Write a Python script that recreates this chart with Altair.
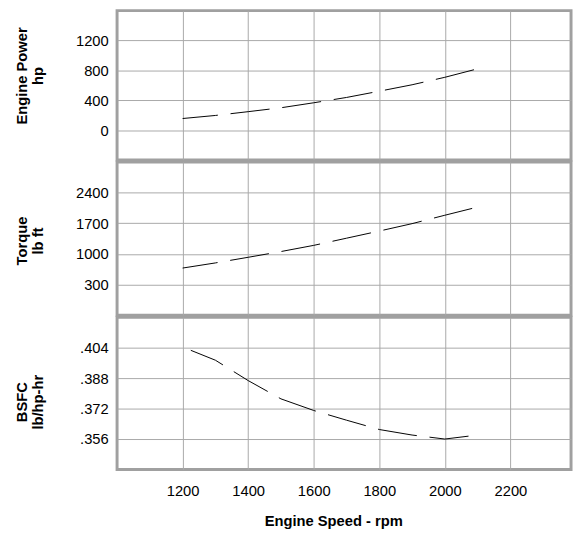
import altair as alt
import pandas as pd

# ---- data ----
rpm = [1200, 1300, 1400, 1500, 1600, 1700, 1800, 1900, 2000, 2100]
power_hp = [155, 196, 247, 299, 366, 437, 521, 607, 707, 821]
torque_lbft = [677, 794, 923, 1054, 1195, 1359, 1522, 1691, 1883, 2070]
bsfc_rpm = [1225, 1300, 1400, 1500, 1600, 1700, 1800, 1900, 2000, 2100]
bsfc_vals = [0.4026, 0.3974, 0.3867, 0.3771, 0.3710, 0.3659, 0.3610, 0.3581, 0.3560, 0.3581]

x_ticks = [1200, 1400, 1600, 1800, 2000, 2200]
power_ticks = [0, 400, 800, 1200]
torque_ticks = [300, 1000, 1700, 2400]
bsfc_ticks = [0.356, 0.372, 0.388, 0.404]

x_domain = [1000, 2385]
power_domain = [-400, 1600]
torque_domain = [-400, 3100]
bsfc_domain = [0.340, 0.420]

power_df = pd.DataFrame({"rpm": rpm, "value": power_hp})
torque_df = pd.DataFrame({"rpm": rpm, "value": torque_lbft})
bsfc_df = pd.DataFrame({"rpm": bsfc_rpm, "value": bsfc_vals})

W = 462
FONT = "Liberation Sans"
GRID = "#a8a8a8"
BORDER = "#a0a0a0"
FS = 15


def panel(df, domain, ticks, title, height, title_y, bottom=False, label_expr=None):
    if bottom:
        xaxis = alt.Axis(values=x_ticks, format="d", grid=True, gridColor=GRID, gridWidth=1,
                         domain=False, ticks=False, labelPadding=14,
                         labelFont=FONT, labelFontSize=FS, labelColor="#000",
                         titleFont=FONT, titleFontSize=FS, titleFontWeight="bold",
                         titleColor="#000", titlePadding=16, titleX=220,
                         titleAlign="center")
        x = alt.X("rpm:Q", scale=alt.Scale(domain=x_domain, nice=False, zero=False),
                  axis=xaxis, title="Engine Speed - rpm")
    else:
        xaxis = alt.Axis(values=x_ticks, grid=True, gridColor=GRID, gridWidth=1,
                         domain=False, ticks=False, labels=False)
        x = alt.X("rpm:Q", scale=alt.Scale(domain=x_domain, nice=False, zero=False),
                  axis=xaxis, title=None)
    yargs = dict(values=ticks, grid=True, gridColor=GRID, gridWidth=1,
                 domain=False, ticks=False, labelPadding=9,
                 labelFont=FONT, labelFontSize=FS, labelColor="#000",
                 titleFont=FONT, titleFontSize=FS, titleFontWeight="bold",
                 titleColor="#000", titleAngle=-90, titleAlign="center",
                 titleBaseline="bottom", titleX=-89, titleY=title_y,
                 titleLineHeight=16, labelOverlap=False)
    if label_expr:
        yargs["labelExpr"] = label_expr
    else:
        yargs["format"] = "d"
    y = alt.Y("value:Q", scale=alt.Scale(domain=domain, nice=False, zero=False),
              axis=alt.Axis(**yargs), title=title)
    return alt.Chart(df).mark_line(
        color="#000", strokeWidth=1, strokeDash=[40, 13], strokeDashOffset=4
    ).encode(x=x, y=y).properties(width=W, height=height)


p1 = panel(power_df, power_domain, power_ticks, ["Engine Power", "hp"], 152, 66)
p2 = panel(torque_df, torque_domain, torque_ticks, ["Torque", "lb ft"], 156, 80)
p3 = panel(bsfc_df, bsfc_domain, bsfc_ticks, ["BSFC", "lb/hp-hr"], 155, 86,
           bottom=True, label_expr="substring(format(datum.value, '.3f'), 1)")

chart = alt.vconcat(p1, p2, p3, spacing=-3).properties(
    padding={"left": 5, "top": -4, "right": 0, "bottom": 0},
    background="white"
).configure_view(
    stroke=BORDER, strokeWidth=3
)

chart.save("out.html", embed_options={"renderer": "svg", "actions": False})
